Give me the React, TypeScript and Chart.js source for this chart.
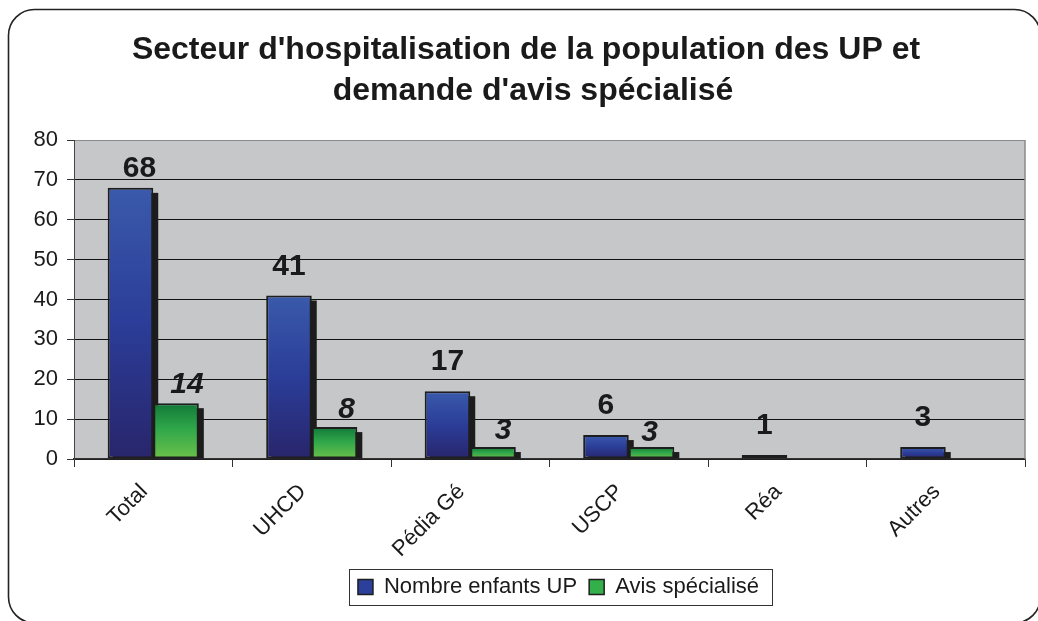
import React, { useEffect, useRef } from 'react';
import { Chart, registerables } from 'chart.js';

Chart.register(...registerables);

// ---- data ----
const categories = ['Total', 'UHCD', 'Pédia Gé', 'USCP', 'Réa', 'Autres'];
const nombreEnfantsUP = [68, 41, 17, 6, 1, 3];
const avisSpecialise = [14, 8, 3, 3, null, null];
const seriesNames = ['Nombre enfants UP', 'Avis spécialisé'];
const titleLines = ["Secteur d'hospitalisation de la population des UP et", "demande d'avis spécialisé"];
const yMin = 0;
const yMax = 80;
const yStep = 10;

// ---- styling ----
const FONT = "'Liberation Sans', Arial, sans-serif";
const blueStops: [number, string][] = [[0, '#3a5aab'], [0.5, '#2b3d98'], [1, '#28256b']];
const greenStops: [number, string][] = [[0, '#127838'], [0.45, '#2fa64a'], [1, '#6cc24a']];
const legendColors = ['#2c3f9a', '#34b04a'];
// label nudges (style only): [dx, gap above bar]
const blueLabelNudge = [[9, 11], [0, 21], [0, 21], [0, 21], [0, 21], [0, 21]];
const greenLabelNudge = [[11, 10], [12, 9], [10, 8], [-2, 6], [0, 0], [0, 0]];

function barGradient(stops: [number, string][]) {
  return (ctx: any) => {
    const chart = ctx.chart;
    const fallback = stops[1][1];
    if (!chart.chartArea || ctx.type !== 'data' || ctx.raw == null) return fallback;
    const ys = chart.scales.y;
    const top = ys.getPixelForValue(ctx.raw);
    const bot = ys.getPixelForValue(0);
    if (!isFinite(top) || !isFinite(bot) || bot - top < 1) return fallback;
    const g = chart.ctx.createLinearGradient(0, top, 0, bot);
    stops.forEach(([o, c]) => g.addColorStop(o, c));
    return g;
  };
}

const decorPlugin = {
  id: 'decor',
  afterLayout(chart: any) {
    const lg = chart.legend;
    if (lg) {
      lg.left += 46;
      lg.right += 46;
    }
  },
  beforeDraw(chart: any) {
    const { ctx, chartArea: a } = chart;
    ctx.save();
    // outer rounded frame
    ctx.strokeStyle = '#222';
    ctx.lineWidth = 1.6;
    ctx.beginPath();
    ctx.roundRect(8.5, 9.5, 1032, 613.5, 26);
    ctx.stroke();
    // plot background
    ctx.fillStyle = '#c6c7c9';
    ctx.fillRect(a.left, a.top, a.right - a.left, a.bottom - a.top);
    // title
    ctx.fillStyle = '#1a1a1a';
    ctx.font = `bold 32px ${FONT}`;
    ctx.textAlign = 'center';
    ctx.textBaseline = 'alphabetic';
    ctx.fillText(titleLines[0], 526, 59);
    ctx.fillText(titleLines[1], 533, 100);
    ctx.restore();
  },
  beforeDatasetsDraw(chart: any) {
    const { ctx, chartArea: a } = chart;
    ctx.save();
    // right border of plot
    ctx.strokeStyle = '#8a8a8a';
    ctx.lineWidth = 1.5;
    ctx.beginPath();
    ctx.moveTo(a.right, a.top);
    ctx.lineTo(a.right, a.bottom);
    ctx.stroke();
    // bar shadows
    ctx.fillStyle = '#1c1c1c';
    chart.data.datasets.forEach((ds: any, di: number) => {
      const meta = chart.getDatasetMeta(di);
      meta.data.forEach((el: any, i: number) => {
        if (ds.data[i] == null) return;
        const { x, y, width, base } = el.getProps(['x', 'y', 'width', 'base'], true);
        const top = y + 5;
        if (base - top <= 0) return;
        ctx.fillRect(x - width / 2 + 5, top, width, base - top);
      });
    });
    ctx.restore();
  },
  afterDatasetsDraw(chart: any) {
    const { ctx } = chart;
    ctx.save();
    ctx.fillStyle = '#1a1a1a';
    ctx.textAlign = 'center';
    ctx.textBaseline = 'alphabetic';
    chart.data.datasets.forEach((ds: any, di: number) => {
      const meta = chart.getDatasetMeta(di);
      const nudges = di === 0 ? blueLabelNudge : greenLabelNudge;
      ctx.font = di === 0 ? `bold 30px ${FONT}` : `italic bold 30px ${FONT}`;
      meta.data.forEach((el: any, i: number) => {
        const v = ds.data[i];
        if (v == null) return;
        const { x, y } = el.getProps(['x', 'y'], true);
        const [dx, gap] = nudges[i];
        ctx.fillText(String(v), x + dx, y - gap);
      });
    });
    ctx.restore();
  },
  afterDraw(chart: any) {
    const lg = chart.legend;
    if (!lg || !lg.legendHitBoxes || !lg.legendHitBoxes.length) return;
    const hb = lg.legendHitBoxes;
    const first = hb[0];
    const last = hb[hb.length - 1];
    const cy = first.top + first.height / 2;
    const { ctx } = chart;
    ctx.save();
    ctx.strokeStyle = '#333';
    ctx.lineWidth = 1;
    const left = Math.round(first.left - 9) + 0.5;
    const right = Math.round(last.left + last.width + 13) + 0.5;
    const top = Math.round(cy - 18) + 0.5;
    ctx.strokeRect(left, top, right - left, 36);
    ctx.restore();
  },
};

export default function App() {
  const ref = useRef<HTMLCanvasElement | null>(null);

  useEffect(() => {
    if (!ref.current) return;
    Chart.defaults.font.family = FONT;
    const chart = new Chart(ref.current, {
      type: 'bar',
      data: {
        labels: categories,
        datasets: [
          {
            label: seriesNames[0],
            data: nombreEnfantsUP,
            backgroundColor: barGradient(blueStops),
            borderColor: '#1e1e1e',
            borderWidth: 2,
            borderSkipped: false,
            barPercentage: 1,
            categoryPercentage: 0.575,
          },
          {
            label: seriesNames[1],
            data: avisSpecialise,
            backgroundColor: barGradient(greenStops),
            borderColor: '#1e1e1e',
            borderWidth: 2,
            borderSkipped: false,
            barPercentage: 1,
            categoryPercentage: 0.575,
          },
        ],
      },
      options: {
        responsive: false,
        animation: false,
        layout: { padding: { top: 140, right: 13, left: 0, bottom: 13 } },
        plugins: {
          title: { display: false },
          tooltip: { enabled: false },
          legend: {
            display: true,
            position: 'bottom',
            labels: {
              font: { size: 22, family: FONT },
              color: '#1a1a1a',
              boxWidth: 15,
              boxHeight: 15,
              padding: 12,
              generateLabels: (c: any) =>
                c.data.datasets.map((ds: any, i: number) => ({
                  text: ds.label,
                  fillStyle: legendColors[i],
                  strokeStyle: '#1e1e1e',
                  lineWidth: 1.5,
                  hidden: false,
                  datasetIndex: i,
                  fontColor: '#1a1a1a',
                })),
            },
          },
        },
        scales: {
          x: {
            type: 'category',
            offset: true,
            afterFit: (s: any) => { s.height = 105; },
            grid: {
              offset: true,
              drawOnChartArea: false,
              drawTicks: true,
              tickLength: 8,
              tickColor: '#333',
            },
            border: { display: true, color: '#333', width: 1.5 },
            ticks: {
              maxRotation: 45,
              minRotation: 45,
              font: { size: 22, family: FONT },
              color: '#1a1a1a',
              padding: 12,
              labelOffset: -9,
            },
          },
          y: {
            min: yMin,
            max: yMax,
            afterFit: (s: any) => { s.width = 74; },
            grid: {
              color: (c: any) => (c.tick && c.tick.value === yMax ? '#8a8a8a' : '#111'),
              lineWidth: 1,
              tickLength: 7,
              tickColor: '#333',
            },
            border: { display: true, color: '#444', width: 1 },
            ticks: {
              stepSize: yStep,
              font: { size: 22, family: FONT },
              color: '#1a1a1a',
              padding: 9,
            },
          },
        },
      },
      plugins: [decorPlugin],
    });
    return () => chart.destroy();
  }, []);

  return (
    <div style={{ position: 'fixed', left: 0, top: 0, width: 1038, height: 621, background: '#fff' }}>
      <canvas ref={ref} width={1038} height={621} style={{ display: 'block' }} />
    </div>
  );
}
